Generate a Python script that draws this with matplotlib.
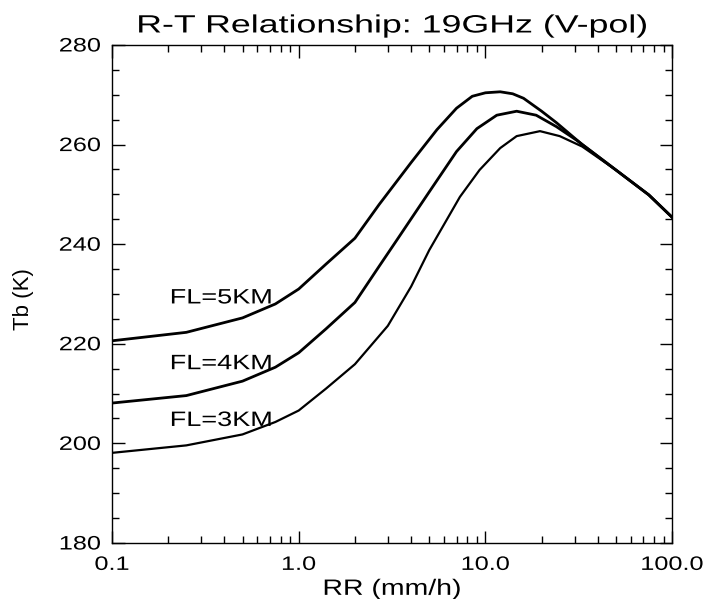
import numpy as np
import matplotlib
matplotlib.use("Agg")
import matplotlib.pyplot as plt
from matplotlib.ticker import LogLocator, FixedLocator, MultipleLocator
from matplotlib.patheffects import AbstractPathEffect
from matplotlib.transforms import Affine2D

plt.rcParams['font.family'] = ['Liberation Sans', 'DejaVu Sans']

# rain rate (mm/h) and brightness temperature (K) for each freezing level
rr_5 = [0.1, 0.25, 0.5, 0.75, 1.0, 1.4, 2.0, 2.7, 4.0, 5.5, 7.0, 8.5, 10, 12, 14, 16, 20, 24, 33, 50, 75, 100]
tb_5 = [220.6, 222.3, 225.2, 228.0, 231.0, 236.0, 241.2, 248.0, 256.4, 263.0, 267.3, 269.7,
        270.4, 270.6, 270.2, 269.3, 266.7, 264.4, 260.0, 254.9, 249.9, 245.4]

rr_4 = [0.1, 0.25, 0.5, 0.75, 1.0, 1.4, 2.0, 2.7, 3.35, 4.0, 5.0, 7.0, 9.0, 11.5, 14.7, 18.7, 24, 31, 50, 75, 100]
tb_4 = [208.1, 209.6, 212.5, 215.3, 218.2, 223.0, 228.3, 235.6, 240.8, 245.1, 250.5, 258.6,
        263.2, 265.9, 266.7, 265.9, 263.6, 260.8, 254.9, 249.9, 245.4]

rr_3 = [0.1, 0.25, 0.5, 0.75, 1.0, 1.4, 2.0, 3.0, 4.0, 5.0, 7.3, 9.3, 12, 14.7, 19.6, 25, 33, 50, 75, 100]
tb_3 = [198.1, 199.6, 201.8, 204.3, 206.6, 211.0, 215.9, 223.6, 231.5, 238.8, 249.5, 254.9,
        259.3, 261.7, 262.7, 261.7, 259.6, 254.9, 249.9, 245.4]

labels = ["FL=5KM", "FL=4KM", "FL=3KM"]
label_x = [0.205, 0.205, 0.205]
label_y = [228.1, 214.9, 203.5]

xticks = [0.1, 1.0, 10.0, 100.0]
xticklabels = ["0.1", "1.0", "10.0", "100.0"]


class Stretch(AbstractPathEffect):
    # widen text horizontally (the original font is much wider than Arial)
    def __init__(self, sx, anchor='center'):
        super().__init__()
        self.sx = sx
        self.anchor = anchor

    def draw_path(self, renderer, gc, tpath, affine, rgbFace=None):
        ext = tpath.get_extents()
        x0 = {'left': ext.x0, 'center': 0.5 * (ext.x0 + ext.x1), 'right': ext.x1}[self.anchor]
        st = Affine2D().translate(-x0, 0).scale(self.sx, 1).translate(x0, 0)
        renderer.draw_path(gc, tpath, st + affine, rgbFace)


fig = plt.figure(figsize=(7.09, 5.99), dpi=100)
ax = fig.add_axes([0.158, 0.0935, 0.79, 0.8314])

for rr, tb, lw in [(rr_5, tb_5, 2.0), (rr_4, tb_4, 2.0), (rr_3, tb_3, 1.6)]:
    ax.plot(rr, tb, color='black', lw=lw, solid_joinstyle='round')

for t, x, y in zip(labels, label_x, label_y):
    ax.text(x, y, t, fontsize=15, va='baseline', ha='left',
            path_effects=[Stretch(1.3, 'left')])

ax.set_xscale('log')
ax.set_xlim(0.1, 100)
ax.set_ylim(180, 280)
ax.xaxis.set_major_locator(FixedLocator(xticks))
ax.set_xticklabels(xticklabels)
ax.xaxis.set_minor_locator(LogLocator(base=10, subs=np.arange(2, 10)))
ax.xaxis.set_minor_formatter(plt.NullFormatter())
ax.yaxis.set_major_locator(MultipleLocator(20))
ax.yaxis.set_minor_locator(MultipleLocator(5))

ax.tick_params(which='both', direction='in', top=True, right=True, labelsize=14,
               width=1.0, color='black')
ax.tick_params(which='major', length=9)
ax.tick_params(which='minor', length=5)
ax.tick_params(axis='x', which='major', pad=10)
ax.tick_params(axis='y', which='major', pad=8)
for s in ax.spines.values():
    s.set_linewidth(1.0)

for lbl in ax.get_xticklabels():
    lbl.set_path_effects([Stretch(1.3, 'center')])
for lbl in ax.get_yticklabels():
    lbl.set_path_effects([Stretch(1.3, 'right')])

ax.set_xlabel("RR (mm/h)", fontsize=16, path_effects=[Stretch(1.28, 'center')])
ax.xaxis.set_label_coords(0.5, -0.072)
ax.set_ylabel("Tb (K)", fontsize=16)
ax.yaxis.set_label_coords(-0.139, 0.49)
ax.set_title("R-T Relationship: 19GHz (V-pol)", fontsize=18, pad=9,
             path_effects=[Stretch(1.43, 'center')])

fig.savefig("out.png", dpi=100)
